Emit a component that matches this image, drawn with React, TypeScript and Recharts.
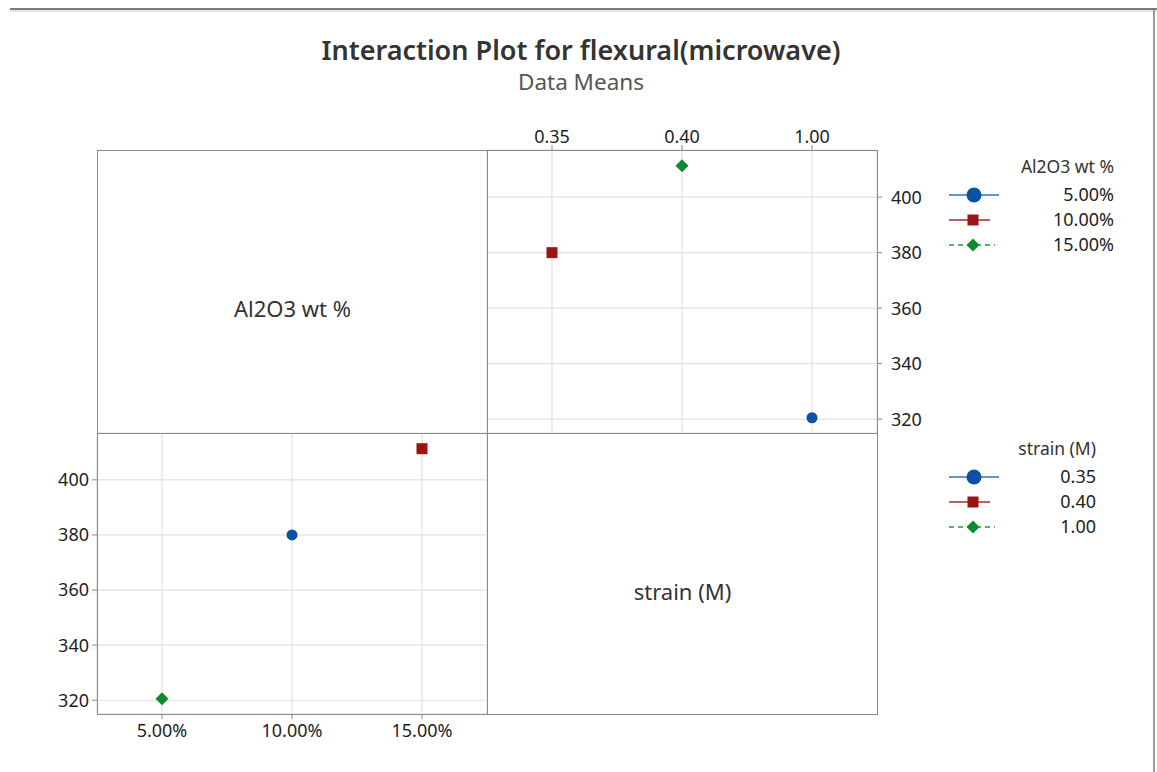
import React from "react";
import { LineChart, Line, XAxis, YAxis, CartesianGrid } from "recharts";

// factor levels
const alLevels = ["5.00%", "10.00%", "15.00%"];
const strainLevels = ["0.35", "0.40", "1.00"];

// observed cells: Al2O3 level, strain level and the mean flexural strength
const cellAl = ["5.00%", "10.00%", "15.00%"];
const cellStrain = ["1.00", "0.35", "0.40"];
const cellMean = [320.5, 380, 411.3];

const yTicks = [320, 340, 360, 380, 400];
const yDomain: [number, number] = [315, 417];

const seriesColors = ["#0b52a5", "#9a1414", "#0d8a2c"];
const lineColors = ["#2f6fc0", "#a52a2a", "#1a9a3a"];
const seriesShapes = ["circle", "square", "diamond"];
const seriesDash = [undefined, undefined, "5 4"];

const FONT = "'Noto Sans', 'Open Sans', sans-serif";

// rows for the top-right panel: x = strain, one series per Al2O3 level
const strainRows = strainLevels.map((s) => {
  const row: Record<string, string | number | null> = { level: s };
  alLevels.forEach((a, i) => {
    const k = cellStrain.findIndex((cs, j) => cs === s && cellAl[j] === a);
    row[`s${i}`] = k >= 0 ? cellMean[k] : null;
  });
  return row;
});

// rows for the bottom-left panel: x = Al2O3, one series per strain level
const alRows = alLevels.map((a) => {
  const row: Record<string, string | number | null> = { level: a };
  strainLevels.forEach((s, i) => {
    const k = cellAl.findIndex((ca, j) => ca === a && cellStrain[j] === s);
    row[`s${i}`] = k >= 0 ? cellMean[k] : null;
  });
  return row;
});

const Marker = ({ shape, color, x, y, size }: { shape: string; color: string; x: number; y: number; size: number }) => {
  if (shape === "circle") return <circle cx={x} cy={y} r={size / 2} fill={color} />;
  if (shape === "square")
    return <rect x={x - size / 2} y={y - size / 2} width={size} height={size} fill={color} />;
  const h = size / 2 + 1;
  return <polygon points={`${x},${y - h} ${x + h},${y} ${x},${y + h} ${x - h},${y}`} fill={color} />;
};

const makeDot = (i: number) => (props: any) => {
  const { cx, cy, index } = props;
  if (cx == null || cy == null || Number.isNaN(cy)) return <g key={`d${i}-${index}`} />;
  return (
    <g key={`d${i}-${index}`}>
      <Marker shape={seriesShapes[i]} color={seriesColors[i]} x={cx} y={cy} size={11} />
    </g>
  );
};

const tickStyle = { fill: "#1e1e1e", fontSize: 18, fontFamily: FONT };

const LegendBlock = ({ title, labels, left, top, textRight }: { title: string; labels: string[]; left: number; top: number; textRight: number }) => (
  <svg width={200} height={110} style={{ position: "absolute", left, top: top - 10 }}>
    <g transform="translate(0,10)">
      <text x={textRight} y={15} textAnchor="end" fontSize={17.5} fill="#333" fontFamily={FONT}>
        {title}
      </text>
      {labels.map((l, i) => {
        const y = 37 + i * 25;
        const x0 = 15;
        const x1 = i === 0 ? 65 : i === 1 ? 56 : 61;
        return (
          <g key={l}>
            <line x1={x0} x2={x1} y1={y} y2={y} stroke={lineColors[i]} strokeWidth={1.6} strokeDasharray={seriesDash[i]} />
            <Marker shape={seriesShapes[i]} color={seriesColors[i]} x={i === 0 ? 40 : 39} y={y} size={i === 0 ? 15 : 11} />
            <text x={textRight} y={y + 6} textAnchor="end" fontSize={18} fill="#222" fontFamily={FONT}>
              {l}
            </text>
          </g>
        );
      })}
    </g>
  </svg>
);

const panelBox = (left: number, top: number, width: number, height: number): React.CSSProperties => ({
  position: "absolute",
  left,
  top,
  width,
  height,
  boxSizing: "border-box",
  border: "1.5px solid #8a8a8a",
  pointerEvents: "none",
});

const App = () => (
  <div style={{ position: "absolute", left: 0, top: 0, width: 1157, height: 772, background: "#fff", fontFamily: FONT }}>
    {/* window frame */}
    <div style={{ position: "absolute", left: 10, top: 8, width: 1147, height: 2, background: "#7a7a7a" }} />
    <div style={{ position: "absolute", left: 10, top: 10, width: 1147, height: 2, background: "#e6e6e6" }} />
    <div style={{ position: "absolute", left: 1153, top: 10, width: 2, height: 762, background: "#9a9a9a" }} />

    <div style={{ position: "absolute", left: 0, top: 31, width: 1162, textAlign: "center", fontSize: 27, fontWeight: 600, color: "#333" }}>
      Interaction Plot for flexural(microwave)
    </div>
    <div style={{ position: "absolute", left: 0, top: 66, width: 1162, textAlign: "center", fontSize: 22.5, color: "#555" }}>
      Data Means
    </div>

    {/* strain on x, Al2O3 levels as series */}
    <div style={{ position: "absolute", left: 437, top: 100 }}>
      <LineChart width={495} height={338} data={strainRows} margin={{ top: 20, right: 5, bottom: 5, left: 50 }}>
        <CartesianGrid stroke="#e2e2e2" strokeWidth={1.2} />
        <XAxis
          dataKey="level"
          orientation="top"
          height={30}
          padding={{ left: 65, right: 65 }}
          axisLine={false}
          tickLine={{ stroke: "#888" }}
          tickSize={5}
          tick={tickStyle}
        />
        <YAxis
          orientation="right"
          width={50}
          type="number"
          domain={yDomain}
          ticks={yTicks}
          allowDataOverflow
          axisLine={false}
          tickLine={{ stroke: "#888" }}
          tickSize={5}
          tickMargin={9}
          tick={tickStyle}
        />
        {alLevels.map((a, i) => (
          <Line
            key={a}
            dataKey={`s${i}`}
            name={a}
            stroke={lineColors[i]}
            strokeWidth={1.6}
            strokeDasharray={seriesDash[i]}
            dot={makeDot(i)}
            activeDot={false}
            isAnimationActive={false}
          />
        ))}
      </LineChart>
    </div>

    {/* Al2O3 on x, strain levels as series */}
    <div style={{ position: "absolute", left: 0, top: 423 }}>
      <LineChart width={492} height={331} data={alRows} margin={{ top: 10, right: 5, bottom: 10, left: 37 }}>
        <CartesianGrid stroke="#e2e2e2" strokeWidth={1.2} />
        <XAxis
          dataKey="level"
          height={30}
          padding={{ left: 65, right: 65 }}
          axisLine={false}
          tickLine={{ stroke: "#888" }}
          tickSize={5}
          tickMargin={5}
          tick={tickStyle}
        />
        <YAxis
          width={60}
          type="number"
          domain={yDomain}
          ticks={yTicks}
          allowDataOverflow
          axisLine={false}
          tickLine={{ stroke: "#888" }}
          tickSize={5}
          tickMargin={3}
          tick={tickStyle}
        />
        {strainLevels.map((s, i) => (
          <Line
            key={s}
            dataKey={`s${i}`}
            name={s}
            stroke={lineColors[i]}
            strokeWidth={1.6}
            strokeDasharray={seriesDash[i]}
            dot={makeDot(i)}
            activeDot={false}
            isAnimationActive={false}
          />
        ))}
      </LineChart>
    </div>

    {/* panel frames */}
    <div style={panelBox(97, 150, 391, 284)} />
    <div style={panelBox(487, 150, 391, 284)} />
    <div style={panelBox(97, 433, 391, 282)} />
    <div style={panelBox(487, 433, 391, 282)} />

    <div style={{ position: "absolute", left: 97, top: 293, width: 391, textAlign: "center", fontSize: 22, color: "#333" }}>
      Al2O3 wt %
    </div>
    <div style={{ position: "absolute", left: 487, top: 576, width: 391, textAlign: "center", fontSize: 22, color: "#333" }}>
      strain (M)
    </div>

    <LegendBlock title="Al2O3 wt %" labels={alLevels} left={934} top={158} textRight={180} />
    <LegendBlock title="strain (M)" labels={strainLevels} left={934} top={440} textRight={162} />
  </div>
);

export default App;
